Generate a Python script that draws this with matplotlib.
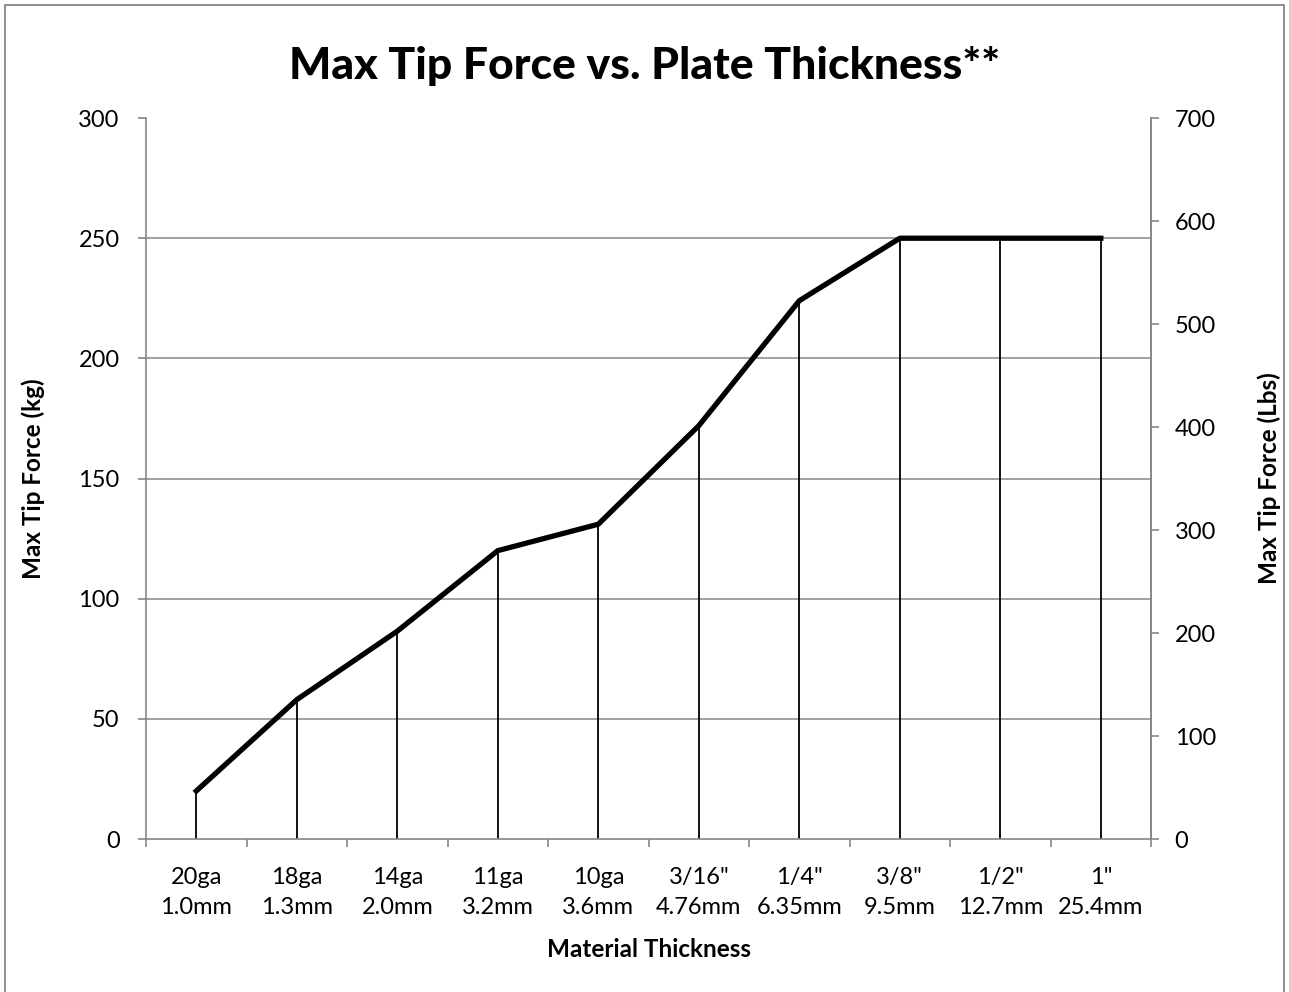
import matplotlib
matplotlib.use('Agg')
import matplotlib.pyplot as plt

plt.rcParams['font.family'] = ['Lato', 'DejaVu Sans']

gauge = ['20ga', '18ga', '14ga', '11ga', '10ga', '3/16"', '1/4"', '3/8"', '1/2"', '1"']
metric = ['1.0mm', '1.3mm', '2.0mm', '3.2mm', '3.6mm', '4.76mm', '6.35mm', '9.5mm', '12.7mm', '25.4mm']
force_kg = [20, 58, 86.5, 120, 131, 172, 224, 250, 250, 250]

labels = [g + '\n' + m for g, m in zip(gauge, metric)]
x = list(range(len(force_kg)))
axis_grey = '#868686'

fig = plt.figure(figsize=(12.89, 9.92), dpi=100)
ax = fig.add_axes([0.1133, 0.1542, 0.7797, 0.7268])

for v in [50, 100, 150, 200, 250]:
    ax.axhline(v, color=axis_grey, lw=1.1, zorder=0)
ax.vlines(x, 0, force_kg, color='black', lw=1.3, zorder=2)
ax.plot(x, force_kg, color='black', lw=3.8, solid_joinstyle='round', zorder=3)

ax.set_xlim(-0.5, 9.5)
ax.set_ylim(0, 300)
ax.set_yticks(range(0, 301, 50))
ax.set_xticks(x)
ax.set_xticklabels(labels, fontsize=17, linespacing=1.55)
ax.set_xticks([i - 0.5 for i in range(11)], minor=True)
ax.tick_params(axis='x', which='major', length=0, pad=20)
ax.tick_params(axis='x', which='minor', length=6, color=axis_grey, width=1.2)
ax.tick_params(axis='y', length=6, color=axis_grey, width=1.2, labelsize=17, pad=13)
for s in ['top']:
    ax.spines[s].set_visible(False)
for s in ['left', 'bottom', 'right']:
    ax.spines[s].set_color(axis_grey)
    ax.spines[s].set_linewidth(1.2)

ax.set_xlabel('Material Thickness', fontsize=17.5, fontweight='bold', labelpad=14)
ax.set_ylabel('Max Tip Force (kg)', fontsize=17.5, fontweight='bold', labelpad=24)

ax2 = ax.twinx()
ax2.set_ylim(0, 700)
ax2.set_yticks(range(0, 701, 100))
ax2.tick_params(axis='y', length=6, color=axis_grey, width=1.2, labelsize=17, pad=11)
for s in ['top', 'left', 'bottom']:
    ax2.spines[s].set_visible(False)
ax2.spines['right'].set_color(axis_grey)
ax2.spines['right'].set_linewidth(1.2)
ax2.set_ylabel('Max Tip Force (Lbs)', fontsize=17.5, fontweight='bold', labelpad=30)

fig.text(0.5, 0.933, 'Max Tip Force vs. Plate Thickness**', ha='center', va='center',
         fontsize=32, fontweight='black')

# chart frame
fig.patches.append(plt.Rectangle((0.004, -0.01), 0.992, 1.005, transform=fig.transFigure,
                                 fill=False, edgecolor=axis_grey, lw=1.3))

plt.savefig('out.png', dpi=100)
